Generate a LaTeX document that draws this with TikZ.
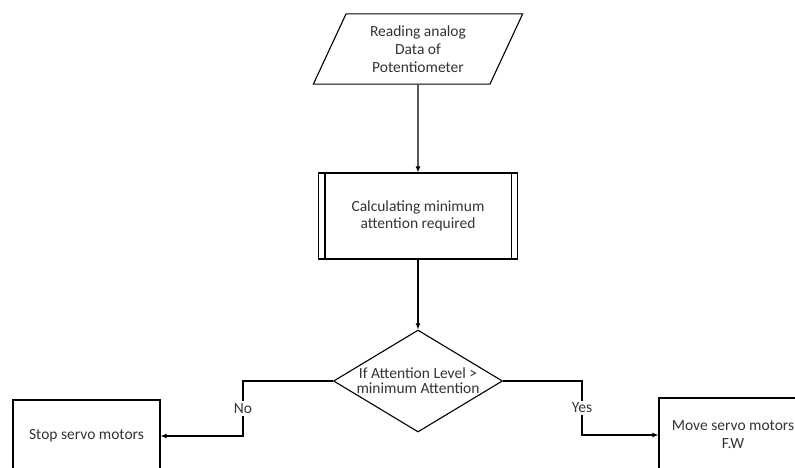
\documentclass[tikz,border=0pt]{standalone}
\usepackage{fontspec}
\setmainfont{Carlito}
\usepackage{tikz}
\usetikzlibrary{shapes.geometric,arrows.meta,positioning}

\begin{document}
\begin{tikzpicture}[x=1pt,y=-1pt,
                    line width=1.1pt,
                    every node/.style={text=black!80, font=\fontsize{15.5}{18}\selectfont},
                    io/.style={draw=black, trapezium, trapezium left angle=65, trapezium right angle=115,
                               minimum width=210pt, minimum height=68pt, inner sep=0pt, align=center},
                    proc/.style={draw=black, rectangle, minimum width=199pt, minimum height=86pt,
                                 align=center, font=\fontsize{15.5}{17}\selectfont},
                    decision/.style={draw=black, diamond, minimum width=169pt, minimum height=102pt,
                                     inner sep=0pt},
                    block/.style={draw=black, rectangle, align=center},
                    line/.style={draw=black, -{Latex[length=6pt,width=5pt]}},
                    ]

\useasboundingbox (0,0) rectangle (795,467);
\clip (0,0) rectangle (795,467);

\node[io] (read) at (418,49) {Reading analog\\Data of\\Potentiometer};
\node[proc] (calc) at (418,216) {Calculating minimum\\attention required};
\draw ([xshift=7pt]calc.north west) -- ([xshift=7pt]calc.south west);
\draw ([xshift=-7pt]calc.north east) -- ([xshift=-7pt]calc.south east);
\node[decision, label={[align=center, font=\fontsize{15.5}{15}\selectfont]center:If Attention Level \textgreater\\minimum Attention}] (check) at (418,381) {};

\node[block, minimum width=147pt, minimum height=72pt] (stop) at (86.5,436) {Stop servo motors};
\node[block, minimum width=148pt, minimum height=74pt] (move) at (733,435) {Move servo motors\\F.W};

\coordinate (nojoint) at (243,381);
\coordinate (yesjoint) at (582,381);

\draw[line] (read) -- (calc);
\draw[line] (calc) -- (check);
\draw[line] (check.west) -- (nojoint) |- node[pos=0.25, fill=white, inner sep=2pt]{No} (stop.east);
\draw[line] (check.east) -- (yesjoint) |- node[pos=0.25, fill=white, inner sep=2pt]{Yes} (move.west);

\end{tikzpicture}
\end{document}
